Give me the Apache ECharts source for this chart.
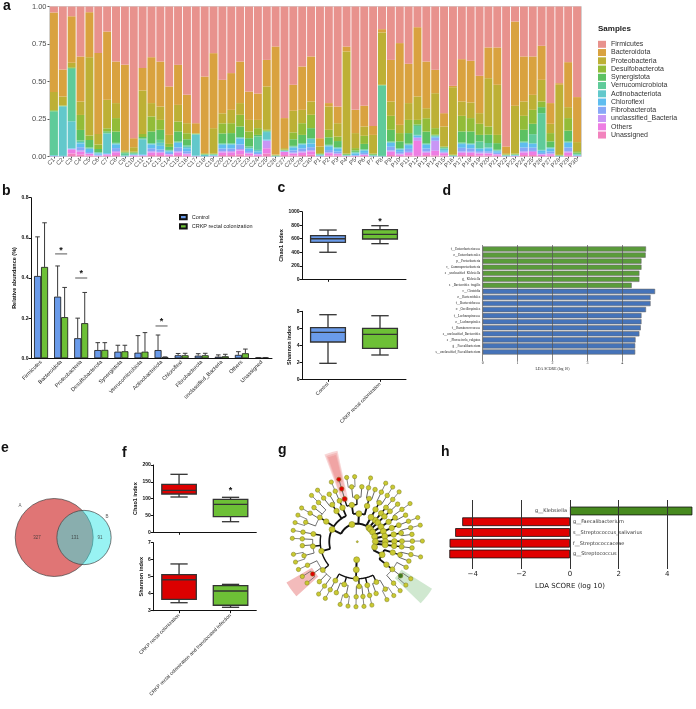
<!DOCTYPE html>
<html>
<head>
<meta charset="utf-8">
<script src="https://cdn.jsdelivr.net/npm/echarts@6.0.0/dist/echarts.min.js"></script>
<style>html,body{margin:0;padding:0;background:#fff;}#chart{width:696px;height:709px;}</style>
</head>
<body>
<div id="chart"></div>
<script>
// ================= DATA =================
// ---- panel a: relative abundance per sample ----
const sampleLabels = ['C1','C2','C3','C4','C5','C6','C7','C8','C9','C10','C11','C12','C13','C14','C15','C16','C17','C18','C19','C20','C21','C22','C23','C24','C25','C26','C27','C28','C29','C30',
  'P1','P2','P3','P4','P5','P6','P7','P8','P9','P10','P11','P12','P13','P14','P15','P16','P17','P18','P19','P20','P21','P22','P23','P24','P25','P26','P27','P28','P29','P30'];
const phylumNames = ['Firmicutes','Bacteroidota','Proteobacteria','Desulfobacterota','Synergistota','Verrucomicrobiota','Actinobacteriota','Chloroflexi','Fibrobacterota','unclassified_Bacteria','Others','Unassigned'];
const firmicutes = [0.04,0.42,0.065,0.333,0.038,0.31,0.167,0.367,0.388,0.878,0.41,0.338,0.367,0.533,0.389,0.589,0.778,0.467,0.311,0.489,0.444,0.367,0.567,0.58,0.356,0.267,0.746,0.522,0.40,0.333,
  0.878,0.644,0.667,0.267,0.689,0.662,0.796,0.151,0.356,0.244,0.382,0.138,0.367,0.422,0.711,0.529,0.351,0.362,0.462,0.273,0.273,0.933,0.10,0.333,0.333,0.262,0.644,0.511,0.371,0.604];
const bacteroidota = [0.53,0.18,0.31,0.30,0.30,0.54,0.455,0.277,0.57,0.06,0.15,0.306,0.30,0.323,0.267,0.189,0.066,0.51,0.50,0.223,0.245,0.277,0.189,0.176,0.177,0.72,0.20,0.173,0.289,0.30,
  0.055,0.023,0.111,0.033,0.155,0.138,0.06,0.022,0.277,0.545,0.262,0.462,0.311,0.156,0.089,0.009,0.282,0.278,0.249,0.205,0.249,0.045,0.562,0.30,0.256,0.227,0.138,0.011,0.30,0.30];
const proteobacteria = [0.12,0.06,0.03,0.09,0.522,0.07,0.19,0.10,0.01,0.03,0.29,0.089,0.089,0.06,0.111,0.067,0.003,0.005,0.17,0.067,0.089,0.078,0.077,0.055,0.289,0.004,0.01,0.144,0.089,0.089,
  0.045,0.155,0.089,0.68,0.10,0.062,0.124,0.349,0.096,0.055,0.112,0.156,0.067,0.233,0.133,0.45,0.096,0.104,0.071,0.322,0.334,0.008,0.318,0.096,0.10,0.144,0.062,0.467,0.073,0.06];
const desulfobacterota = [0.005,0.002,0.005,0.10,0.03,0.03,0.02,0.09,0.005,0.005,0.02,0.10,0.066,0.02,0.066,0.04,0.002,0.003,0.003,0.067,0.066,0.078,0.045,0.045,0.005,0.002,0.003,0.046,0.078,0.089,
  0.005,0.05,0.03,0.005,0.015,0.054,0.005,0.002,0.093,0.055,0.088,0.03,0.089,0.044,0.005,0.003,0.104,0.089,0.074,0.055,0.055,0.003,0.005,0.093,0.093,0.038,0.055,0.003,0.084,0.01];
const synergistota = [0.005,0.002,0.005,0.07,0.05,0.02,0.01,0.075,0.005,0.005,0.01,0.077,0.067,0.02,0.067,0.04,0.002,0.002,0.002,0.066,0.067,0.07,0.055,0.01,0.005,0.002,0.003,0.044,0.055,0.067,
  0.003,0.05,0.04,0.005,0.01,0.035,0.005,0.002,0.078,0.045,0.07,0.01,0.078,0.005,0.005,0.002,0.074,0.078,0.044,0.055,0.044,0.002,0.003,0.078,0.069,0.04,0.038,0.002,0.072,0.008];
const verrucomicrobiota = [0.29,0.002,0.35,0.01,0.005,0.005,0.005,0.005,0.015,0.005,0.005,0.005,0.02,0.005,0.005,0.01,0.003,0.003,0.003,0.005,0.005,0.005,0.01,0.09,0.005,0.002,0.002,0.005,0.005,0.005,
  0.002,0.005,0.005,0.002,0.005,0.005,0.003,0.47,0.005,0.005,0.005,0.06,0.005,0.005,0.005,0.002,0.005,0.005,0.044,0.03,0.005,0.002,0.002,0.005,0.06,0.245,0.005,0.002,0.005,0.005];
const actinobacteriota = [0.005,0.33,0.18,0.01,0.005,0.005,0.13,0.005,0.004,0.005,0.10,0.005,0.02,0.005,0.005,0.01,0.14,0.008,0.004,0.005,0.005,0.005,0.005,0.01,0.05,0.002,0.002,0.005,0.005,0.03,
  0.005,0.005,0.005,0.002,0.005,0.005,0.003,0.002,0.005,0.005,0.005,0.005,0.005,0.005,0.01,0.002,0.005,0.005,0.005,0.005,0.005,0.003,0.002,0.005,0.005,0.005,0.005,0.002,0.005,0.005];
const chloroflexi = [0.002,0.002,0.003,0.025,0.02,0.008,0.005,0.025,0.001,0.002,0.005,0.025,0.025,0.01,0.03,0.02,0.003,0.001,0.003,0.025,0.025,0.04,0.015,0.01,0.005,0.001,0.002,0.02,0.025,0.025,
  0.003,0.025,0.02,0.002,0.012,0.015,0.002,0.001,0.025,0.015,0.025,0.01,0.025,0.005,0.01,0.001,0.025,0.025,0.015,0.02,0.01,0.002,0.003,0.03,0.025,0.015,0.02,0.001,0.03,0.003];
const fibrobacterota = [0.001,0.001,0.002,0.02,0.01,0.005,0.003,0.02,0.001,0.002,0.003,0.02,0.015,0.008,0.025,0.015,0.001,0.001,0.002,0.018,0.018,0.03,0.012,0.008,0.003,0,0.002,0.015,0.02,0.02,
  0.002,0.015,0.012,0.001,0.004,0.01,0.001,0.001,0.025,0.012,0.02,0.005,0.02,0.02,0.005,0.001,0.025,0.022,0.01,0.01,0.008,0.001,0.002,0.025,0.022,0.008,0.013,0.001,0.025,0.002];
const unclassifiedBacteria = [0.001,0.001,0.005,0.01,0.003,0.002,0.002,0.008,0.001,0.003,0.002,0.008,0.006,0.004,0.008,0.005,0.001,0,0.001,0.008,0.008,0.01,0.005,0.004,0.05,0,0.002,0.006,0.008,0.008,
  0.001,0.006,0.005,0.001,0.002,0.004,0.001,0,0.008,0.005,0.008,0.02,0.008,0.067,0.005,0.001,0.008,0.007,0.006,0.005,0.004,0.001,0.001,0.008,0.007,0.003,0.005,0,0.008,0.001];
const othersPhyla = [0.001,0,0.025,0.02,0.01,0.003,0.008,0.018,0,0.005,0.003,0.017,0.015,0.008,0.017,0.01,0.001,0,0.001,0.017,0.018,0.025,0.012,0.008,0.035,0,0.02,0.012,0.016,0.022,
  0.001,0.014,0.01,0.001,0.002,0.006,0,0,0.022,0.01,0.015,0.10,0.015,0.03,0.015,0,0.015,0.015,0.012,0.012,0.008,0,0.002,0.017,0.02,0.01,0.01,0,0.018,0.002];
const unassignedPhyla = [0,0,0.02,0.012,0.007,0.002,0.005,0.01,0,0,0.002,0.01,0.01,0.004,0.01,0.005,0,0,0,0.01,0.01,0.015,0.008,0.004,0.02,0,0.01,0.008,0.01,0.012,
  0,0.008,0.006,0.001,0.001,0.004,0,0,0.01,0.004,0.008,0.004,0.01,0.008,0.007,0,0.01,0.01,0.008,0.008,0.005,0,0,0.01,0.01,0.003,0.005,0,0.009,0];

// ---- panel b: mean relative abundance with upper SD ----
const abundCats = ['Firmicutes','Bacteroidota','Proteobacteria','Desulfobacterota','Synergistota','Verrucomicrobiota','Actinobacteriota','Chloroflexi','Fibrobacterota','unclassified_Bacteria','Others','Unassigned'];
const ctrlMean  = [0.41,0.307,0.10,0.041,0.033,0.028,0.041,0.015,0.013,0.008,0.017,0.002];
const ctrlUpper = [0.605,0.46,0.20,0.078,0.065,0.113,0.116,0.024,0.023,0.017,0.033,0.004];
const crkpMean  = [0.455,0.205,0.175,0.042,0.035,0.033,0.005,0.015,0.015,0.01,0.025,0.002];
const crkpUpper = [0.675,0.353,0.328,0.078,0.065,0.128,0.007,0.025,0.025,0.02,0.046,0.004];
const sigCatIdx = [1, 2, 6];
const sigLineY  = [0.52, 0.40, 0.161];
const sigStarY  = [0.549, 0.43, 0.191];

// ---- panel c: alpha diversity (min, Q1, median, Q3, max) ----
const groupsC = ['Control','CRKP rectal colonization'];
const chao1C   = [[400,547,600,645,729],[527,596,666,734,793]];
const shannonC = [[1.88,4.39,5.53,6.07,7.6],[2.86,3.65,5.29,6.0,7.48]];

// ---- panel d: LEfSe LDA scores ----
const ldaLabels = ['f__Enterobacteriaceae','o__Enterobacterales','p__Proteobacteria','c__Gammaproteobacteria','s__unclassified_Klebsiella','g__Klebsiella','s__Bacteroides_fragilis',
  'c__Clostridia','o__Bacteroidales','f__Bacteroidaceae','o__Oscillospirales','f__Lachnospiraceae','o__Lachnospirales','f__Ruminococcaceae','s__unclassified_Bacteroides','s__Phocaeicola_vulgatus','g__Faecalibacterium','s__unclassified_Faecalibacterium'];
const ldaScores = [4.68,4.67,4.55,4.55,4.49,4.49,4.27,4.94,4.81,4.81,4.68,4.55,4.55,4.53,4.49,4.38,4.37,4.37];
const ldaGroup  = [1,1,1,1,1,1,1,0,0,0,0,0,0,0,0,0,0,0];

// ---- panel e: Venn counts ----
const vennOnlyA = 327, vennBoth = 131, vennOnlyB = 91;

// ---- panel f ----
const groupsF = ['CRKP rectal colonization','CRKP rectal colonization and translocated infection'];
const chao1F   = [[104.9,113.8,124.8,142.6,172.3],[31.5,46.4,83.2,98,104]];
const shannonF = [[3.47,3.67,4.82,5.12,5.75],[3.2,3.32,4.16,4.47,4.55]];

// ---- panel g: cladogram topology (array = clade, number n = clade with n terminal children) ----
const cladeTree = [
  [[[[1]]]],                                   // Verrucomicrobiota
  [[[[0]]]],                                   // Synergistota
  [[[[1,0]]]],                                 // Desulfobacterota
  [ [[[1]]], [[[1,0]]] ],                      // Actinobacteriota
  [[[[1]]]],                                   // Fusobacteriota
  [ [[[0]]], [ [[1,0]], [[0,2,1]] ] ],         // Proteobacteria
  [[ [ [2,0],[1],[1,1],[2,0],[1] ] ]],         // Bacteroidota
  [                                            // Firmicutes
    [ [[1,0,2,1],[2,0,1],[1]], [[2,1,0,1]], [[1,0]], [[1]] ],
    [ [[1],[2,0]], [[1,0]] ],
    [ [[1,1]] ]
  ]
];
const cladeRed   = ['7.0.0.0.2','7.1.0.0','7.1.0.0.0','7.1.0.0.0.0'];
const cladeGreen = ['5.1.1.0.1'];

// ---- panel h ----
const hLabels = ['g__Klebsiella','g__Faecalibacterium','s__Streptococcus_salivarius','f__Streptococcaceae','g__Streptococcus'];
const hScores = [5.03,-4.43,-4.72,-4.95,-4.96];

// ================= STYLE / LAYOUT =================
const SANS = 'Liberation Sans', SERIF = 'Liberation Serif', DJV = 'DejaVu Sans';
const phylumColors = ['#E8928D','#D9A23F','#BDB035','#92BC38','#5CC162','#5FCB9A','#62C8CB','#5FBDEF','#87A8F7','#C896F5','#EE7DE3','#F283BD'];
const phylumSeriesData = [firmicutes,bacteroidota,proteobacteria,desulfobacterota,synergistota,verrucomicrobiota,actinobacteriota,chloroflexi,fibrobacterota,unclassifiedBacteria,othersPhyla,unassignedPhyla];
const C_BLUE = '#6A9BEA', C_GREEN = '#6DC036', C_RED = '#DC0000';

// cladogram layout
const RAD = [0, 1.9, 2.95, 3.9, 4.7, 5.8, 6.85];
const NODE_SIZE = [2, 6, 6, 5.5, 5, 4.6, 4.3];
const EDGE_W = [0, 2, 1.8, 1.4, 0.9, 0.7];
const cladeStartAngle = 40;
const treeNodes = [];
let leafTotal = 0;
function buildClade(spec, depth, path) {
  const node = {depth: depth, path: path.join('.'), children: [], idx: treeNodes.length};
  treeNodes.push(node);
  const kids = Array.isArray(spec) ? spec : new Array(spec).fill(0);
  kids.forEach((s, i) => node.children.push(buildClade(s, depth + 1, path.concat(i))));
  if (!node.children.length) node.leaf = leafTotal++;
  return node;
}
const cladeRoot = buildClade(cladeTree, 0, []);
const leafStep = 360 / leafTotal;
function placeClade(n) {
  if (n.children.length) {
    n.children.forEach(placeClade);
    n.angle = (n.children[0].angle + n.children[n.children.length - 1].angle) / 2;
  } else n.angle = cladeStartAngle + n.leaf * leafStep;
}
placeClade(cladeRoot);
const nodeByPath = {};
treeNodes.forEach(n => nodeByPath[n.path] = n);
const cladeWedges = [
  {path:'7.1.0.0', r0:4.35, r1:9.8, hw:4.2, color:'rgba(232,120,120,0.30)'},
  {path:'7.1.0.0.0', r0:5.45, r1:9.6, hw:3.4, color:'rgba(232,120,120,0.30)'},
  {path:'7.1.0.0.0.0', r0:6.5, r1:9.4, hw:2.7, color:'rgba(232,120,120,0.32)'},
  {path:'7.0.0.0.2', r0:5.5, r1:8.6, hw:6, color:'rgba(232,120,120,0.5)'},
  {path:'5.1.1.0.1', r0:5.5, r1:9.3, hw:6, color:'rgba(150,205,150,0.45)'}
];

// venn layout
const vennScale = 1.822;           // px per sqrt(count)
const vennCenterA = [54.2, 70.5];
const vennGap = 29.8;

// ================= RENDERERS =================
function renderErrorBar(params, api) {
  const cat = api.value(0), side = api.value(3);
  const band = api.size([1, 0])[0];
  const pTop = api.coord([cat, api.value(1)]);
  const pUp = api.coord([cat, api.value(2)]);
  const x = pTop[0] + side * band * 0.175;
  const st = {stroke:'#3a3a3a', lineWidth:1};
  return {type:'group', children:[
    {type:'line', shape:{x1:x, y1:pTop[1], x2:x, y2:pUp[1]}, style:Object.assign({}, st)},
    {type:'line', shape:{x1:x-2.3, y1:pUp[1], x2:x+2.3, y2:pUp[1]}, style:Object.assign({}, st)}
  ]};
}
function renderSig(params, api) {
  const cat = api.value(0);
  const pl = api.coord([cat, api.value(1)]);
  const ps = api.coord([cat, api.value(2)]);
  const half = api.size([1, 0])[0] * 0.3;
  return {type:'group', children:[
    {type:'line', shape:{x1:pl[0]-half, y1:pl[1], x2:pl[0]+half, y2:pl[1]}, style:{stroke:'#444', lineWidth:0.9}},
    {type:'text', style:{x:ps[0], y:ps[1]+2, text:'*', fontSize:9, fontWeight:'bold', fontFamily:SANS, fill:'#111', align:'center', verticalAlign:'middle'}}
  ]};
}
function renderStar(params, api) {
  const p = api.coord([api.value(0), api.value(1)]);
  return {type:'text', style:{x:p[0], y:p[1]+2, text:'*', fontSize:9, fontWeight:'bold', fontFamily:SANS, fill:'#111', align:'center', verticalAlign:'middle'}};
}
function renderBox(params, api) {
  const cat = api.value(0);
  const pMin = api.coord([cat, api.value(1)]), pQ1 = api.coord([cat, api.value(2)]), pMed = api.coord([cat, api.value(3)]),
        pQ3 = api.coord([cat, api.value(4)]), pMax = api.coord([cat, api.value(5)]);
  const band = api.size([1, 0])[0];
  const w = band * 0.67, cw = w * 0.5, x = pMin[0];
  const st = () => ({stroke:'#333', lineWidth:1.3});
  return {type:'group', children:[
    {type:'line', shape:{x1:x, y1:pMax[1], x2:x, y2:pQ3[1]}, style:st()},
    {type:'line', shape:{x1:x, y1:pQ1[1], x2:x, y2:pMin[1]}, style:st()},
    {type:'line', shape:{x1:x-cw/2, y1:pMax[1], x2:x+cw/2, y2:pMax[1]}, style:st()},
    {type:'line', shape:{x1:x-cw/2, y1:pMin[1], x2:x+cw/2, y2:pMin[1]}, style:st()},
    {type:'rect', shape:{x:x-w/2, y:pQ3[1], width:w, height:pQ1[1]-pQ3[1]}, style:{fill:api.visual('color'), stroke:'#333', lineWidth:1.3}},
    {type:'line', shape:{x1:x-w/2, y1:pMed[1], x2:x+w/2, y2:pMed[1]}, style:st()}
  ]};
}
function renderWedge(params, api) {
  const r0 = api.value(0), a = api.value(1), r1 = api.value(2), hw = api.value(3);
  const pts = [];
  for (let k = 0; k <= 12; k++) pts.push(api.coord([r1, a - hw + k * hw / 6]));
  for (let k = 12; k >= 0; k--) pts.push(api.coord([r0, a - hw + k * hw / 6]));
  return {type:'polygon', shape:{points:pts}, style:{fill:api.visual('color')}};
}
function renderEdges(params, api) {
  const n = treeNodes[api.value(2)];
  const r = RAD[n.depth];
  const st = () => ({stroke: n.depth <= 3 ? '#111' : '#555', lineWidth: EDGE_W[n.depth], fill: null});
  const kids = [];
  const a0 = n.children[0].angle, a1 = n.children[n.children.length - 1].angle;
  if (a1 - a0 > 0.01) {
    const pts = [];
    for (let a = a0; a < a1; a += 1) pts.push(api.coord([r, a]));
    pts.push(api.coord([r, a1]));
    kids.push({type:'polyline', shape:{points:pts}, style:st()});
  }
  n.children.forEach(c => {
    const p0 = api.coord([r, c.angle]), p1 = api.coord([RAD[c.depth], c.angle]);
    kids.push({type:'line', shape:{x1:p0[0], y1:p0[1], x2:p1[0], y2:p1[1]}, style:st()});
  });
  return {type:'group', children:kids};
}

// ================= OPTION =================
const G = (o) => Object.assign({outerBoundsMode:'none', containLabel:false}, o);
const blackLine = {show:true, lineStyle:{color:'#111', width:1}};
const prismLabel = (fs) => ({fontSize:fs, fontWeight:'bold', color:'#111', fontFamily:SANS});
const plainNum = (v) => String(v);

const series = [];
// panel a
for (let k = phylumNames.length - 1; k >= 0; k--) {
  series.push({type:'bar', name:phylumNames[k], xAxisIndex:0, yAxisIndex:0, stack:'a', data:phylumSeriesData[k],
    barCategoryGap:'10%', itemStyle:{color:phylumColors[k]}});
}
// panel b
series.push({type:'bar', name:'Control', xAxisIndex:1, yAxisIndex:1, data:ctrlMean, barWidth:7, barGap:'0%',
  itemStyle:{color:C_BLUE, borderColor:'#111', borderWidth:0.8}});
series.push({type:'bar', name:'CRKP rectal colonization', xAxisIndex:1, yAxisIndex:1, data:crkpMean, barWidth:7, barGap:'0%',
  itemStyle:{color:C_GREEN, borderColor:'#111', borderWidth:0.8}});
series.push({type:'custom', name:'errB', xAxisIndex:1, yAxisIndex:1, renderItem:renderErrorBar, z:3,
  data: abundCats.map((c,i)=>[i, ctrlMean[i], ctrlUpper[i], -1]).concat(abundCats.map((c,i)=>[i, crkpMean[i], crkpUpper[i], 1]))});
series.push({type:'custom', name:'sigB', xAxisIndex:1, yAxisIndex:1, renderItem:renderSig, z:3,
  data: sigCatIdx.map((c,i)=>[c, sigLineY[i], sigStarY[i]])});
// panel c
series.push({type:'custom', name:'chao1C', xAxisIndex:2, yAxisIndex:2, renderItem:renderBox,
  data: chao1C.map((b,i)=>({value:[i].concat(b), itemStyle:{color: i===0?C_BLUE:C_GREEN}}))});
series.push({type:'custom', name:'starC', xAxisIndex:2, yAxisIndex:2, renderItem:renderStar, data:[[1, 877]]});
series.push({type:'custom', name:'shannonC', xAxisIndex:3, yAxisIndex:3, renderItem:renderBox,
  data: shannonC.map((b,i)=>({value:[i].concat(b), itemStyle:{color: i===0?C_BLUE:C_GREEN}}))});
// panel d
series.push({type:'bar', name:'lda', xAxisIndex:4, yAxisIndex:4, barWidth:'86%',
  data: ldaScores.map((v,i)=>({value:v, itemStyle:{color: ldaGroup[i] ? '#5A9C3A' : '#4573B9'}})),
  itemStyle:{borderColor:'#6a6a6a', borderWidth:0.6}});
series.push({type:'scatter', name:'dLinesDummy', xAxisIndex:5, yAxisIndex:5, data:[]});
// panel e: Venn
const rA = vennScale * Math.sqrt(vennOnlyA + vennBoth), rB = vennScale * Math.sqrt(vennOnlyB + vennBoth);
series.push({type:'scatter', name:'vennA', xAxisIndex:6, yAxisIndex:6, symbolSize:2*rA, z:2,
  data:[vennCenterA], itemStyle:{color:'#E07575', opacity:1, borderColor:'#444', borderWidth:0.7}});
series.push({type:'scatter', name:'vennB', xAxisIndex:6, yAxisIndex:6, symbolSize:2*rB, z:3,
  data:[[vennCenterA[0]+vennGap, vennCenterA[1]]], itemStyle:{color:'rgba(50,232,232,0.5)', opacity:1, borderColor:'#444', borderWidth:0.7}});
series.push({type:'scatter', name:'vennText', xAxisIndex:6, yAxisIndex:6, symbolSize:0, z:4,
  data:[{value:[37,70.7], name:String(vennOnlyA)}, {value:[75,70.7], name:String(vennBoth)}, {value:[100,70.7], name:String(vennOnlyB)},
        {value:[20,39], name:'A'}, {value:[107,49.7], name:'B'}],
  label:{show:true, position:'inside', formatter:'{b}', fontSize:4.5, color:'#333', fontFamily:SANS}});
// panel f
series.push({type:'custom', name:'chao1F', xAxisIndex:7, yAxisIndex:7, renderItem:renderBox,
  data: chao1F.map((b,i)=>({value:[i].concat(b), itemStyle:{color: i===0?C_RED:C_GREEN}}))});
series.push({type:'custom', name:'starF', xAxisIndex:7, yAxisIndex:7, renderItem:renderStar, data:[[1, 128.7]]});
series.push({type:'custom', name:'shannonF', xAxisIndex:8, yAxisIndex:8, renderItem:renderBox,
  data: shannonF.map((b,i)=>({value:[i].concat(b), itemStyle:{color: i===0?C_RED:C_GREEN}}))});
// panel g
series.push({type:'custom', name:'wedges', coordinateSystem:'polar', renderItem:renderWedge, z:1,
  data: cladeWedges.map(w=>({value:[w.r0, nodeByPath[w.path].angle, w.r1, w.hw], itemStyle:{color:w.color}}))});
series.push({type:'custom', name:'edges', coordinateSystem:'polar', renderItem:renderEdges, z:2,
  data: treeNodes.filter(n=>n.depth>0 && n.children.length).map(n=>[RAD[n.depth], n.angle % 360, n.idx])});
series.push({type:'scatter', name:'nodes', coordinateSystem:'polar', z:3,
  itemStyle:{opacity:1, borderColor:'#7c7c1c', borderWidth:0.5},
  data: treeNodes.map(n=>{
    let col = '#C9C931';
    if (cladeRed.indexOf(n.path) >= 0) col = '#E00000';
    if (cladeGreen.indexOf(n.path) >= 0) col = '#3E7A22';
    return {value:[RAD[n.depth], n.angle % 360], symbolSize:NODE_SIZE[n.depth], itemStyle:{color:col}};
  })});
// panel h
series.push({type:'bar', name:'ldaH', xAxisIndex:9, yAxisIndex:9, barWidth:'81%',
  itemStyle:{borderColor:'#111', borderWidth:0.8},
  label:{show:true, formatter:'{b}', fontSize:5, color:'#333', fontFamily:DJV, distance:3},
  data: hScores.map((v,i)=>({value:v, itemStyle:{color: v>0 ? '#478A1F' : '#E00000'}, label:{position: v>0 ? 'left' : 'right'}}))});
series.push({type:'scatter', name:'hLinesDummy', xAxisIndex:10, yAxisIndex:10, data:[]});

const letter = (t, l, tp) => ({text:t, left:l, top:tp, padding:0, textStyle:{fontSize:14, fontWeight:'bold', color:'#111', fontFamily:SANS}});

const option = {
  animation:false,
  backgroundColor:'#fff',
  title:[
    letter('a',3,-1), letter('b',2,184.5), letter('c',277.5,181.5), letter('d',442.5,184.5),
    letter('e',1,441.5), letter('f',122,446), letter('g',278,443.5), letter('h',441,445),
    {text:'Samples', left:598, top:25, padding:0, textStyle:{fontSize:8, fontWeight:'bold', color:'#222', fontFamily:SANS}}
  ],
  legend:[
    {data:phylumNames, left:598, top:40.8, padding:0, orient:'vertical', icon:'rect', itemWidth:8, itemHeight:7, itemGap:1.25,
     selectedMode:false, textStyle:{fontSize:7, color:'#333', fontFamily:SANS}},
    {data:['Control','CRKP rectal colonization'], left:179, top:214, padding:0, orient:'vertical', icon:'rect', itemWidth:6.7, itemHeight:4.2, itemGap:3,
     selectedMode:false, textStyle:{fontSize:5.5, color:'#222', fontFamily:SANS}}
  ],
  grid:[
    G({left:49.5, top:6.5, width:532, height:150, show:true, borderColor:'#d4d4d4', borderWidth:1, backgroundColor:'transparent'}),
    G({left:31, top:197.7, width:241, height:160.6}),
    G({left:302, top:211.7, width:104, height:67.6}),
    G({left:302, top:311.3, width:104, height:68}),
    G({left:482.7, top:246, width:174.5, height:109}),
    G({left:482.7, top:245, width:139.6, height:114}),
    G({left:0, top:467, width:140, height:140}),
    G({left:153.3, top:465, width:103, height:67.3}),
    G({left:153.3, top:542.7, width:103, height:68}),
    G({left:443.5, top:505.6, width:253, height:53.75}),
    G({left:472.7, top:500, width:194.6, height:69})
  ],
  polar:{center:[357.3, 541.7], radius:95},
  angleAxis:{type:'value', min:0, max:360, startAngle:90, clockwise:true, show:false},
  radiusAxis:{type:'value', min:0, max:10, show:false},
  xAxis:[
    {gridIndex:0, type:'category', data:sampleLabels, axisLine:{show:false}, axisTick:{show:true, alignWithLabel:true, length:2, lineStyle:{color:'#555'}},
     axisLabel:{interval:0, rotate:45, fontSize:6, color:'#4d4d4d', margin:2.5, fontFamily:SANS}, splitLine:{show:false}},
    {gridIndex:1, type:'category', data:abundCats, axisLine:blackLine, axisTick:{show:false},
     axisLabel:Object.assign({interval:0, rotate:45, margin:3}, prismLabel(5.5), {fontWeight:'normal', color:'#222'}), splitLine:{show:false}},
    {gridIndex:2, type:'category', data:groupsC, axisLine:blackLine, axisTick:{show:true, alignWithLabel:true, length:2.5, lineStyle:{color:'#111'}},
     axisLabel:{show:false}, splitLine:{show:false}},
    {gridIndex:3, type:'category', data:groupsC, axisLine:blackLine, axisTick:{show:true, alignWithLabel:true, length:2.5, lineStyle:{color:'#111'}},
     axisLabel:Object.assign({interval:0, rotate:45, margin:4}, prismLabel(5), {fontWeight:'normal', color:'#222'}), splitLine:{show:false}},
    {gridIndex:4, type:'value', min:0, max:5, show:false},
    {gridIndex:5, type:'value', min:0, max:4, interval:1, z:5, axisLine:{show:false}, axisTick:{show:true, length:2, lineStyle:{color:'#555', width:0.7}},
     axisLabel:{fontSize:4, color:'#222', margin:1.5, fontFamily:SERIF, formatter:plainNum}, splitLine:{show:true, lineStyle:{color:'#555', width:0.7}},
     name:'LDA SCORE (log 10)', nameLocation:'middle', nameGap:8.5, nameTextStyle:{fontSize:3.8, color:'#222', fontFamily:SERIF}},
    {gridIndex:6, type:'value', min:0, max:140, show:false},
    {gridIndex:7, type:'category', data:groupsF, axisLine:blackLine, axisTick:{show:true, alignWithLabel:true, length:2.5, lineStyle:{color:'#111'}},
     axisLabel:{show:false}, splitLine:{show:false}},
    {gridIndex:8, type:'category', data:groupsF, axisLine:blackLine, axisTick:{show:true, alignWithLabel:true, length:2.5, lineStyle:{color:'#111'}},
     axisLabel:Object.assign({interval:0, rotate:45, margin:4}, prismLabel(5), {fontWeight:'normal', color:'#222'}), splitLine:{show:false}},
    {gridIndex:9, type:'value', min:-5.2, max:5.2, show:false},
    {gridIndex:10, type:'value', min:-4, max:4, interval:2, z:5, axisLine:{show:false}, axisTick:{show:false},
     axisLabel:{fontSize:7, color:'#222', margin:2, fontFamily:DJV, formatter:(v)=> v<0 ? '\u2212'+(-v) : String(v)},
     splitLine:{show:true, lineStyle:{color:'#333', width:1}},
     name:'LDA SCORE (log 10)', nameLocation:'middle', nameGap:14, nameTextStyle:{fontSize:7, color:'#222', fontFamily:DJV}}
  ],
  yAxis:[
    {gridIndex:0, type:'value', min:0, max:1, interval:0.25, axisLine:{show:false}, axisTick:{show:true, length:2, lineStyle:{color:'#555'}},
     axisLabel:{fontSize:7.5, color:'#4d4d4d', margin:3, fontFamily:SANS, formatter:(v)=>v.toFixed(2)}, splitLine:{show:false}},
    {gridIndex:1, type:'value', min:0, max:0.8, interval:0.2, axisLine:blackLine, axisTick:{show:true, length:2.5, lineStyle:{color:'#111'}},
     axisLabel:Object.assign({margin:2.5, formatter:(v)=>v.toFixed(1)}, prismLabel(5)), splitLine:{show:false},
     name:'Relative abundance (%)', nameLocation:'middle', nameGap:12.7, nameTextStyle:prismLabel(5.5)},
    {gridIndex:2, type:'value', min:0, max:1000, interval:200, axisLine:blackLine, axisTick:{show:true, length:2.5, lineStyle:{color:'#111'}},
     axisLabel:Object.assign({margin:2.5, formatter:plainNum}, prismLabel(5)), splitLine:{show:false},
     name:'Chao1 index', nameLocation:'middle', nameGap:15.3, nameTextStyle:prismLabel(5.5)},
    {gridIndex:3, type:'value', min:0, max:8, interval:2, axisLine:blackLine, axisTick:{show:true, length:2.5, lineStyle:{color:'#111'}},
     axisLabel:Object.assign({margin:2.5, formatter:plainNum}, prismLabel(5)), splitLine:{show:false},
     name:'Shannon index', nameLocation:'middle', nameGap:8.7, nameTextStyle:prismLabel(5.5)},
    {gridIndex:4, type:'category', data:ldaLabels, inverse:true, axisLine:{show:false}, axisTick:{show:false},
     axisLabel:{interval:0, fontSize:3.3, color:'#222', margin:2.5, fontFamily:SERIF}, splitLine:{show:false}},
    {gridIndex:5, type:'value', min:0, max:1, show:false},
    {gridIndex:6, type:'value', min:0, max:140, inverse:true, show:false},
    {gridIndex:7, type:'value', min:0, max:200, interval:50, axisLine:blackLine, axisTick:{show:true, length:2.5, lineStyle:{color:'#111'}},
     axisLabel:Object.assign({margin:2.5, formatter:plainNum}, prismLabel(5)), splitLine:{show:false},
     name:'Chao1 index', nameLocation:'middle', nameGap:15, nameTextStyle:prismLabel(5.5)},
    {gridIndex:8, type:'value', min:3, max:7, interval:1, axisLine:blackLine, axisTick:{show:true, length:2.5, lineStyle:{color:'#111'}},
     axisLabel:Object.assign({margin:2.5, formatter:plainNum}, prismLabel(5)), splitLine:{show:false},
     name:'Shannon index', nameLocation:'middle', nameGap:6.6, nameTextStyle:prismLabel(5.5)},
    {gridIndex:9, type:'category', data:hLabels, inverse:true, show:false},
    {gridIndex:10, type:'value', min:0, max:1, show:false}
  ],
  series: series
};
const chart = echarts.init(document.getElementById('chart'), null, {renderer:'canvas', width:696, height:709});
chart.setOption(option);
</script>
</body>
</html>
